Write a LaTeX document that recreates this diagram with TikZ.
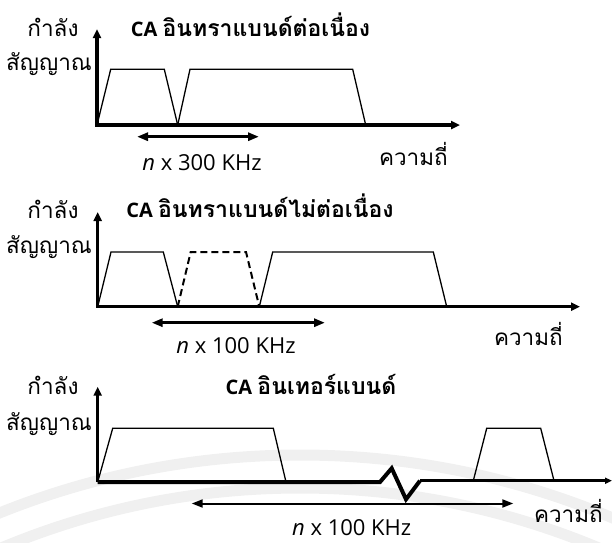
\documentclass[tikz,border=0pt]{standalone}
\usepackage{fontspec}
\setmainfont{Open Sans}
\newfontfamily\thai[Script=Thai]{Loma}
\usetikzlibrary{arrows.meta}
\begin{document}
\begin{tikzpicture}[x=1pt,y=-1pt,
  axisline/.style={line width=3.2pt},
  bandline/.style={line width=1.3pt, line join=miter},
  dashband/.style={line width=2pt, dash pattern=on 7pt off 4pt},
  spanarrow/.style={line width=3pt, {Triangle[length=11pt,width=8pt]}-{Triangle[length=11pt,width=8pt]}},
  lbl/.style={font=\thai\fontsize{22.5}{24}\selectfont, inner sep=0pt},
  ttl/.style={font=\fontsize{20}{22}\selectfont\bfseries, inner sep=0pt},
  num/.style={font=\fontsize{22}{24}\selectfont, inner sep=0pt, text depth=0pt},
  wmark/.style={black!6, line width=11pt}
]
\useasboundingbox (0,0) rectangle (612,542);
% watermark arcs
\begin{scope}
  \clip (0,440) rectangle (612,542);
  \draw[wmark] (300,1260) circle[radius=805];
  \draw[wmark] (300,1260) circle[radius=772];
\end{scope}

% ---------- panel 1 ----------
\coordinate (a1y) at (97,29);
\coordinate (a1o) at (97,125);
\coordinate (a1x) at (460,125);
\draw[axisline,{Triangle[length=9pt,width=8pt]}-{Triangle[length=9pt,width=8pt]}] (a1y) -- (a1o) -- (a1x);
\draw[bandline] (a1o) -- (110.7,69.3) -- (164.3,69.3) -- (177.7,125) coordinate (b1);
\draw[bandline] (b1) -- (190,69.3) -- (352.7,69.3) -- (365.7,125);
\coordinate (s1a) at (137,136.7);
\coordinate (s1b) at (259,136.7);
\draw[spanarrow] (s1a) -- (s1b);
\node[num, anchor=base] (n1) at (202,170) {\textit{n} x 300 KHz};
\node[lbl, anchor=base east] (f1) at (448,165) {ความถี่};
\node[lbl, anchor=base] (p1a) at (53,36.7) {กำลัง};
\node[lbl, anchor=base east] (p1b) at (92,70) {สัญญาณ};
\node[ttl, anchor=base] (t1) at (250.5,36.7) {CA {\thai\fontsize{23}{24}\selectfont อินทราแบนด์ต่อเนื่อง}};

% ---------- panel 2 ----------
\coordinate (a2y) at (97.7,212);
\coordinate (a2o) at (97.7,306.7);
\coordinate (a2x) at (580,306.7);
\draw[axisline,{Triangle[length=9pt,width=8pt]}-{Triangle[length=9pt,width=8pt]}] (a2y) -- (a2o) -- (a2x);
\draw[bandline] (a2o) -- (111,252) -- (163.3,252) -- (177.7,306.7) coordinate (b2);
\draw[dashband] (b2) -- (190.7,252) -- (246,252) -- (259.3,306.7) coordinate (c2);
\draw[bandline] (c2) -- (272.7,252) -- (433.3,252) -- (446.7,306.7);
\coordinate (s2a) at (151.7,322.7);
\coordinate (s2b) at (325,322.7);
\draw[spanarrow] (s2a) -- (s2b);
\node[num, anchor=base] (n2) at (236,353.3) {\textit{n} x 100 KHz};
\node[lbl, anchor=base east] (f2) at (563,345) {ความถี่};
\node[lbl, anchor=base] (p2a) at (53,218.3) {กำลัง};
\node[lbl, anchor=base east] (p2b) at (92,253) {สัญญาณ};
\node[ttl, anchor=base] (t2) at (260,217.3) {CA {\thai\fontsize{23}{24}\selectfont อินทราแบนด์ไม่ต่อเนื่อง}};

% ---------- panel 3 ----------
\coordinate (a3y) at (97.7,386.7);
\coordinate (a3o) at (97.7,482);
\coordinate (z1) at (380,482);
\coordinate (z2) at (391.7,468.3);
\coordinate (z3) at (406,499.3);
\coordinate (z4) at (420,480.7);
\coordinate (a3x) at (612,480.7);
\draw[line width=3pt, {Triangle[length=9pt,width=8pt]}-] (a3y) -- (a3o);
\draw[line width=4pt, line join=miter] (a3o) -- (z1) -- (z2) -- (z3) -- (z4);
\draw[line width=2.6pt, -{Triangle[length=7pt,width=6pt]}] (z4) -- (a3x);
\draw[bandline] (a3o) -- (112.7,428.3) -- (273.3,428.3) -- (286,482);
\draw[bandline] (473.3,480.7) -- (486.7,428.3) -- (540.7,428.3) -- (554,480.7);
\coordinate (s3a) at (191.7,503.5);
\coordinate (s3b) at (513.3,503.5);
\draw[line width=2pt, {Triangle[length=11pt,width=8pt]}-{Triangle[length=11pt,width=8pt]}] (s3a) -- (s3b);
\node[num, anchor=base] (n3) at (351.7,535.5) {\textit{n} x 100 KHz};
\node[lbl, anchor=base east] (f3) at (603,522.5) {ความถี่};
\node[lbl, anchor=base] (p3a) at (53,394.3) {กำลัง};
\node[lbl, anchor=base east] (p3b) at (92,430) {สัญญาณ};
\node[ttl, anchor=base] (t3) at (311,394) {CA {\thai\fontsize{23}{24}\selectfont อินเทอร์แบนด์}};
\end{tikzpicture}
\end{document}
